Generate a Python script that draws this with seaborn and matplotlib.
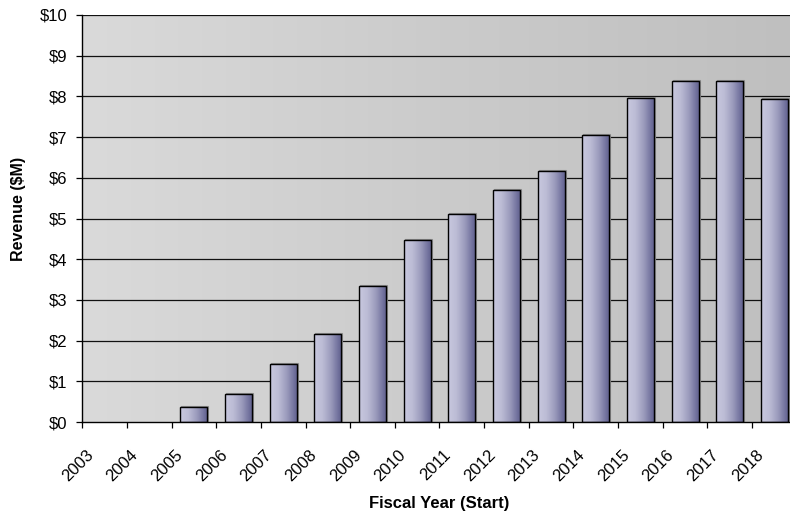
import numpy as np
import matplotlib
matplotlib.use("Agg")
import matplotlib.pyplot as plt
from matplotlib.colors import LinearSegmentedColormap
from matplotlib.patches import Rectangle
from matplotlib.transforms import ScaledTranslation, offset_copy
import seaborn as sns

# Fiscal-year revenue, $M
years = ["2003", "2004", "2005", "2006", "2007", "2008", "2009", "2010",
         "2011", "2012", "2013", "2014", "2015", "2016", "2017", "2018"]
revenue = [0.0, 0.0, 0.36, 0.70, 1.43, 2.17, 3.34, 4.47,
           5.11, 5.70, 6.16, 7.05, 7.95, 8.39, 8.39, 7.94]
ytick_values = list(range(0, 11))
ytick_labels = [f"${v}" for v in ytick_values]

sns.set_style("white")
plt.rcParams["font.family"] = ["Liberation Sans", "DejaVu Sans"]
plt.rcParams["text.color"] = "black"
plt.rcParams["axes.labelcolor"] = "black"
plt.rcParams["xtick.color"] = "black"
plt.rcParams["ytick.color"] = "black"

fig = plt.figure(figsize=(7.9, 5.15), dpi=100)
ax = fig.add_axes([0.1042, 0.1804, 0.9042, 0.7905])

sns.barplot(x=years, y=revenue, order=years, width=0.605, ax=ax,
            color="#9898b8", saturation=1, edgecolor="black", linewidth=1.0,
            errorbar=None, zorder=3)

ax.set_xlim(-0.5, len(years) - 0.5)
ax.set_ylim(0, 10)

# Plot-area background: soft horizontal grey gradient
bg_cmap = LinearSegmentedColormap.from_list("bg", ["#dadada", "#cbcbcb", "#bfbfbf"])
grad = np.linspace(0, 1, 256).reshape(1, -1)
ax.imshow(grad, cmap=bg_cmap, aspect="auto", extent=[0, 1, 0, 1],
          transform=ax.transAxes, zorder=0, interpolation="bicubic")

# Bar fill: light lavender to slate blue, left to right
bar_cmap = LinearSegmentedColormap.from_list(
    "bar", [(0.0, "#c8c8df"), (0.3, "#bcbcd5"), (0.6, "#9c9cbd"),
            (0.85, "#74749f"), (1.0, "#5c5c8b")])
for patch in list(ax.patches):
    h = patch.get_height()
    if h <= 0:
        patch.set_visible(False)
        continue
    x0 = patch.get_x()
    w = patch.get_width()
    patch.set_facecolor("none")
    shadow = Rectangle((x0, 0), w, h, facecolor="#8c8c8c", edgecolor="#8c8c8c",
                       lw=0.8, zorder=1.5,
                       transform=offset_copy(ax.transData, fig=fig, x=1.0, y=1.0,
                                             units="dots"))
    ax.add_patch(shadow)
    img = ax.imshow(grad, cmap=bar_cmap, aspect="auto",
                    extent=[x0, x0 + w, 0, h], zorder=2, interpolation="bicubic")
    img.set_clip_path(patch)

ax.set_xlim(-0.5, len(years) - 0.5)
ax.set_ylim(0, 10)

# Horizontal gridlines
for v in ytick_values[1:]:
    ax.axhline(v, color="#111111", lw=0.9, zorder=1)

for side in ["top", "right"]:
    ax.spines[side].set_visible(False)
for side in ["left", "bottom"]:
    ax.spines[side].set_color("black")
    ax.spines[side].set_linewidth(1.0)
    ax.spines[side].set_zorder(4)

ax.set_yticks(ytick_values)
ax.set_yticklabels(ytick_labels)
ax.tick_params(axis="y", direction="out", length=4.3, width=0.9, color="black",
               labelcolor="black", pad=6.5, labelsize=12, left=True)

# Category boundaries carry the x ticks; labels sit at bar centres
ax.set_xticks(np.arange(-0.5, len(years), 1.0), minor=True)
ax.tick_params(axis="x", which="minor", direction="out", length=4.3, width=0.9,
               color="black", bottom=True)
ax.set_xticks(range(len(years)))
ax.set_xticklabels(years)
ax.tick_params(axis="x", which="major", length=0, pad=0, labelsize=12,
               labelcolor="black")
shift = ScaledTranslation(-0.136, -0.30, fig.dpi_scale_trans)
for lbl in ax.get_xticklabels():
    lbl.set_rotation(45)
    lbl.set_ha("right")
    lbl.set_va("center")
    lbl.set_rotation_mode("anchor")
    lbl.set_transform(lbl.get_transform() + shift)

ax.set_xlabel("Fiscal Year (Start)", fontsize=12, fontweight="bold", color="black")
ax.set_ylabel("Revenue ($M)", fontsize=11.5, fontweight="bold", color="black")
ax.xaxis.set_label_coords(0.5, -0.181)
ax.xaxis.label.set_va("top")
ax.yaxis.set_label_coords(-0.079, 0.523)

fig.savefig("out.png", dpi=100)
